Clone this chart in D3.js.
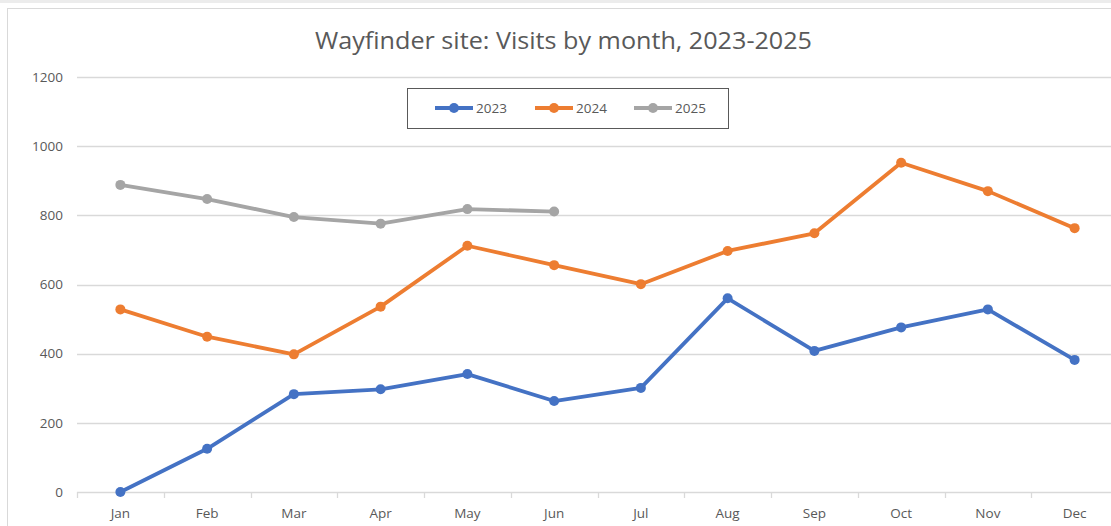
<!DOCTYPE html>
<html>
<head>
	<meta charset="utf-8">
	<title>Wayfinder visits</title>
	<script src="https://d3js.org/d3.v7.min.js"></script>
	<style>
		html, body {
			margin: 0;
			background: #fff;
			overflow: hidden;
		}
		text {
			font-family: "Open Sans", "Liberation Sans", sans-serif;
			fill: #595959;
		}
	</style>
</head>
<body>
	<svg id="svg"></svg>
	<script>
		const months = ["Jan", "Feb", "Mar", "Apr", "May", "Jun", "Jul", "Aug", "Sep", "Oct", "Nov", "Dec"];
		const years = ["2023", "2024", "2025"];
		const visits2023 = [0, 125, 283, 297, 341, 263, 301, 560, 408, 476, 528, 382];
		const visits2024 = [528, 449, 398, 536, 712, 656, 601, 697, 748, 952, 870, 763];
		const visits2025 = [888, 847, 795, 776, 818, 811];
		const yTicks = [0, 200, 400, 600, 800, 1000, 1200];
		const colors = ["#4472C4", "#ED7D31", "#A5A5A5"];

		const series = [visits2023, visits2024, visits2025].map((vals, i) => ({
			name: years[i],
			color: colors[i],
			values: vals.map((v, j) => ({ month: months[j], value: v }))
		}));

		const width = 1111, height = 526;
		const svg = d3.select("#svg")
		.attr("width", width)
		.attr("height", height);

		// chart frame
		svg.append("rect")
		.attr("x", 0).attr("y", 0)
		.attr("width", width).attr("height", 3)
		.attr("fill", "#ececec");
		svg.append("rect")
		.attr("x", 7.5).attr("y", 8.5)
		.attr("width", width + 20).attr("height", height + 20)
		.attr("fill", "none")
		.attr("stroke", "#d9d9d9");

		const x = d3.scaleBand()
		.domain(months)
		.range([77, 1118]);

		const y = d3.scaleLinear()
		.domain([0, 1200])
		.range([492, 77]);

		// gridlines
		svg.append("g")
		.selectAll("line")
		.data(yTicks)
		.enter()
		.append("line")
		.attr("x1", 77).attr("x2", 1118)
		.attr("y1", d => Math.round(y(d)) + 0.5)
		.attr("y2", d => Math.round(y(d)) + 0.5)
		.attr("stroke", "#d9d9d9")
		.attr("stroke-width", 1.3);

		// y labels
		svg.append("g")
		.selectAll("text")
		.data(yTicks)
		.enter()
		.append("text")
		.attr("x", 63)
		.attr("y", d => y(d))
		.attr("dy", "0.35em")
		.attr("text-anchor", "end")
		.attr("font-size", 13.5)
		.text(d => d);

		// x axis ticks between categories
		const bounds = months.map(m => x(m)).concat([x.range()[1]]);
		svg.append("g")
		.selectAll("line")
		.data(bounds)
		.enter()
		.append("line")
		.attr("x1", d => Math.round(d) + 0.5).attr("x2", d => Math.round(d) + 0.5)
		.attr("y1", 492).attr("y2", 498)
		.attr("stroke", "#d9d9d9")
		.attr("stroke-width", 1.3);

		svg.append("g")
		.selectAll("text")
		.data(months)
		.enter()
		.append("text")
		.attr("x", d => x(d) + x.bandwidth() / 2)
		.attr("y", 513)
		.attr("dy", "0.35em")
		.attr("text-anchor", "middle")
		.attr("font-size", 13.5)
		.text(d => d);

		// lines
		const line = d3.line()
		.x(d => x(d.month) + x.bandwidth() / 2)
		.y(d => y(d.value));

		const lineGroup = svg.append("g");
		series.forEach(s => {
			lineGroup.append("path")
			.attr("d", line(s.values))
			.attr("fill", "none")
			.attr("stroke", s.color)
			.attr("stroke-width", 3.8)
			.attr("stroke-linejoin", "round");

			lineGroup.selectAll(null)
			.data(s.values)
			.enter()
			.append("circle")
			.attr("cx", d => x(d.month) + x.bandwidth() / 2)
			.attr("cy", d => y(d.value))
			.attr("r", 5)
			.attr("fill", s.color);
		});

		// title
		svg.append("text")
		.attr("x", 315)
		.attr("y", 41)
		.attr("dy", "0.35em")
		.attr("font-size", 23)
		.attr("textLength", 497)
		.attr("lengthAdjust", "spacingAndGlyphs")
		.text("Wayfinder site: Visits by month, 2023-2025");

		// legend
		const legend = svg.append("g");
		legend.append("rect")
		.attr("x", 407.5).attr("y", 88.5)
		.attr("width", 321).attr("height", 40)
		.attr("fill", "#fff")
		.attr("stroke", "#595959");

		const legendX = [435, 535, 634];
		series.forEach((s, i) => {
			const lx = legendX[i];
			legend.append("line")
			.attr("x1", lx).attr("x2", lx + 38)
			.attr("y1", 108).attr("y2", 108)
			.attr("stroke", s.color)
			.attr("stroke-width", 3.8);
			legend.append("circle")
			.attr("cx", lx + 19).attr("cy", 108)
			.attr("r", 5)
			.attr("fill", s.color);
			legend.append("text")
			.attr("x", lx + 41)
			.attr("y", 108)
			.attr("dy", "0.35em")
			.attr("font-size", 13.5)
			.text(s.name);
		});
	</script>
</body>
</html>
